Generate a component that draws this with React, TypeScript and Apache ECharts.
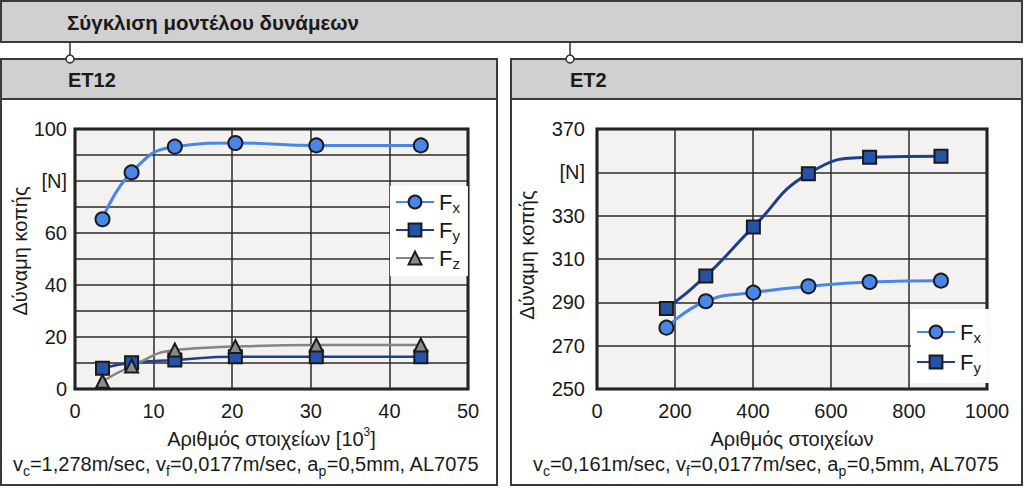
import React, { useEffect, useRef } from "react";
import * as echarts from "echarts";

// ---- data (left panel: ET12, x in 10^3 elements) ----
const leftX = [3.5, 7.2, 12.7, 20.4, 30.7, 44.0];
const leftFx = [65.3, 83.3, 93.2, 94.6, 93.7, 93.7];
const leftFy = [8.0, 10.1, 11.2, 12.4, 12.4, 12.4];
const leftFz = [3.0, 8.8, 15.0, 16.3, 16.9, 16.9];

// ---- data (right panel: ET2, x in elements) ----
const rightX = [178, 279, 401, 542, 699, 882];
const rightFx = [278.3, 290.5, 294.5, 297.4, 299.4, 300.0];
const rightFy = [287.1, 302.1, 324.8, 349.4, 357.0, 357.4];

// ---- texts / ticks ----
const mainTitle = "Σύγκλιση μοντέλου δυνάμεων";
const leftTitle = "ET12";
const rightTitle = "ET2";
const yName = "Δύναμη κοπής";
const leftXName = "Αριθμός στοιχείων [10{sup|3}]";
const rightXName = "Αριθμός στοιχείων";
const unitLabel = "[N]";
const leftUnitTick = 80;
const rightUnitTick = 350;
const leftNote = "{n|v}{s|c}{n|=1,278m/sec, v}{s|f}{n|=0,0177m/sec, a}{s|p}{n|=0,5mm, AL7075}";
const rightNote = "{n|v}{s|c}{n|=0,161m/sec, v}{s|f}{n|=0,0177m/sec, a}{s|p}{n|=0,5mm, AL7075}";

const FONT = "'Liberation Sans', Arial, sans-serif";
const FS = 20;
const C_FX = "#4a86e8";
const C_FY = "#1e3f8f";
const C_FY_FILL = "#2453a8";
const C_FZ = "#858585";
const C_FZ_FILL = "#8a8a8a";
const EDGE = "#1a1a1a";

const pair = (xs: number[], ys: number[]) => xs.map((x, i) => [x, ys[i]]);

export default function App() {
  const ref = useRef<HTMLDivElement>(null);
  useEffect(() => {
    if (!ref.current) return;
    const chart = echarts.init(ref.current, undefined, { renderer: "svg" });

    const axisLabel = { color: "#1a1a1a", fontSize: FS, fontFamily: FONT };
    const splitLine = { show: true, lineStyle: { color: "#2a2a2a", width: 1.5 } };
    const legendRich = {
      f: { fontSize: 22, fontFamily: FONT, color: "#1a1a1a", lineHeight: 26 },
      s: { fontSize: 15, fontFamily: FONT, color: "#1a1a1a", lineHeight: 15, verticalAlign: "bottom" },
    };
    const legendFmt = (name: string) => `{f|F}{s|${name.charAt(1)}}`;
    const noteRich = {
      n: { fontSize: FS, fontFamily: FONT, fill: "#1a1a1a", lineHeight: 27 },
      s: { fontSize: 14, fontFamily: FONT, fill: "#1a1a1a", lineHeight: 14, verticalAlign: "bottom" },
    };
    const nameStyle = {
      fontSize: FS, fontFamily: FONT, color: "#1a1a1a", lineHeight: 26,
      rich: { sup: { fontSize: 12, fontFamily: FONT, color: "#1a1a1a", lineHeight: 12, verticalAlign: "top" } },
    };

    const panel = (x: number, w: number) => [
      { type: "rect", shape: { x, y: 59, width: w, height: 426 }, style: { fill: "#ffffff", stroke: "#3a3a3a", lineWidth: 2 }, z: -10 },
      { type: "rect", shape: { x, y: 59, width: w, height: 40 }, style: { fill: "#d0d0d0", stroke: "#3a3a3a", lineWidth: 2 }, z: -9 },
    ];
    const connector = (x: number) => [
      { type: "line", shape: { x1: x, y1: 42, x2: x, y2: 55 }, style: { stroke: "#333", lineWidth: 1.5 }, z: -8 },
      { type: "circle", shape: { cx: x, cy: 59, r: 4 }, style: { fill: "#fff", stroke: "#333", lineWidth: 1.5 }, z: -7 },
    ];
    const headText = (x: number, y: number, text: string, size: number) => ({
      type: "text", x, y, z: -5,
      style: { text, fontSize: size, fontWeight: "bold", fontFamily: FONT, fill: "#1a1a1a", verticalAlign: "middle" },
    });

    chart.setOption({
      animation: false,
      textStyle: { fontFamily: FONT },
      graphic: [
        { type: "rect", shape: { x: 1, y: 1, width: 1021, height: 41 }, style: { fill: "#d0d0d0", stroke: "#3a3a3a", lineWidth: 2 }, z: -10 },
        headText(67, 22, mainTitle, 20.5),
        ...panel(1, 496),
        ...panel(511, 511),
        ...connector(70),
        ...connector(570),
        headText(68, 80, leftTitle, 20),
        headText(570, 80, rightTitle, 20),
        { type: "text", x: 246, y: 464, z: -5, style: { text: leftNote, rich: noteRich, align: "center", verticalAlign: "middle" } },
        { type: "text", x: 766, y: 464, z: -5, style: { text: rightNote, rich: noteRich, align: "center", verticalAlign: "middle" } },
      ],
      grid: [
        { left: 75, top: 129, width: 393, height: 260, show: true, backgroundColor: "#f3f2f0", borderColor: "#111", borderWidth: 3 },
        { left: 597, top: 129, width: 390, height: 260, show: true, backgroundColor: "#f3f2f0", borderColor: "#111", borderWidth: 3 },
      ],
      xAxis: [
        {
          type: "value", gridIndex: 0, min: 0, max: 50, interval: 10,
          axisLine: { show: false }, axisTick: { show: false },
          axisLabel: { ...axisLabel, margin: 12 }, splitLine,
          name: leftXName, nameLocation: "middle", nameGap: 35, nameTextStyle: nameStyle,
        },
        {
          type: "value", gridIndex: 1, min: 0, max: 1000, interval: 200,
          axisLine: { show: false }, axisTick: { show: false },
          axisLabel: { ...axisLabel, margin: 12, formatter: (v: number) => String(v) }, splitLine,
          name: rightXName, nameLocation: "middle", nameGap: 35, nameTextStyle: nameStyle,
        },
      ],
      yAxis: [
        {
          type: "value", gridIndex: 0, min: 0, max: 100, interval: 10,
          axisLine: { show: false }, axisTick: { show: false },
          axisLabel: { ...axisLabel, margin: 8, formatter: (v: number) => (v === leftUnitTick ? unitLabel : v % 20 === 0 ? String(v) : "") },
          splitLine,
          name: yName, nameLocation: "middle", nameGap: 42,
          nameTextStyle: { fontSize: FS, fontFamily: FONT, color: "#1a1a1a", padding: [0, 0, 0, 16] },
        },
        {
          type: "value", gridIndex: 1, min: 250, max: 370, interval: 20,
          axisLine: { show: false }, axisTick: { show: false },
          axisLabel: { ...axisLabel, margin: 12, formatter: (v: number) => (v === rightUnitTick ? unitLabel : String(v)) },
          splitLine,
          name: yName, nameLocation: "middle", nameGap: 60,
          nameTextStyle: { fontSize: FS, fontFamily: FONT, color: "#1a1a1a", padding: [0, 0, 0, 8] },
        },
      ],
      legend: [
        {
          data: ["Fx", "Fy", "Fz"], orient: "vertical", left: 390, top: 186,
          itemWidth: 38, itemHeight: 16, itemGap: 4, padding: [5, 8, 5, 5],
          backgroundColor: "#ffffff", formatter: legendFmt, textStyle: { rich: legendRich },
          selectedMode: false,
        },
        {
          data: ["Fx2", "Fy2"], orient: "vertical", left: 911, top: 309,
          itemWidth: 38, itemHeight: 16, itemGap: 6, padding: [12, 8, 8, 5],
          backgroundColor: "#ffffff", formatter: legendFmt, textStyle: { rich: legendRich },
          selectedMode: false,
        },
      ],
      series: [
        {
          type: "line", name: "Fx", xAxisIndex: 0, yAxisIndex: 0, data: pair(leftX, leftFx), smooth: 0.5,
          symbol: "circle", symbolSize: 14, lineStyle: { color: C_FX, width: 3 },
          itemStyle: { color: C_FX, borderColor: EDGE, borderWidth: 2 },
        },
        {
          type: "line", name: "Fy", xAxisIndex: 0, yAxisIndex: 0, data: pair(leftX, leftFy), smooth: 0.5,
          symbol: "rect", symbolSize: 13, lineStyle: { color: C_FY, width: 2.5 },
          itemStyle: { color: C_FY_FILL, borderColor: EDGE, borderWidth: 2 },
        },
        {
          type: "line", name: "Fz", xAxisIndex: 0, yAxisIndex: 0, data: pair(leftX, leftFz), smooth: 0.5,
          symbol: "triangle", symbolSize: 13, lineStyle: { color: C_FZ, width: 2.5 },
          itemStyle: { color: C_FZ_FILL, borderColor: EDGE, borderWidth: 2 },
        },
        {
          type: "line", name: "Fx2", xAxisIndex: 1, yAxisIndex: 1, data: pair(rightX, rightFx), smooth: 0.5,
          symbol: "circle", symbolSize: 14, lineStyle: { color: C_FX, width: 3 },
          itemStyle: { color: C_FX, borderColor: EDGE, borderWidth: 2 },
        },
        {
          type: "line", name: "Fy2", xAxisIndex: 1, yAxisIndex: 1, data: pair(rightX, rightFy), smooth: 0.5,
          symbol: "rect", symbolSize: 13, lineStyle: { color: C_FY, width: 3 },
          itemStyle: { color: C_FY_FILL, borderColor: EDGE, borderWidth: 2 },
        },
      ],
    });
    return () => chart.dispose();
  }, []);
  return <div ref={ref} style={{ position: "absolute", left: 0, top: 0, width: 1024, height: 488 }} />;
}
